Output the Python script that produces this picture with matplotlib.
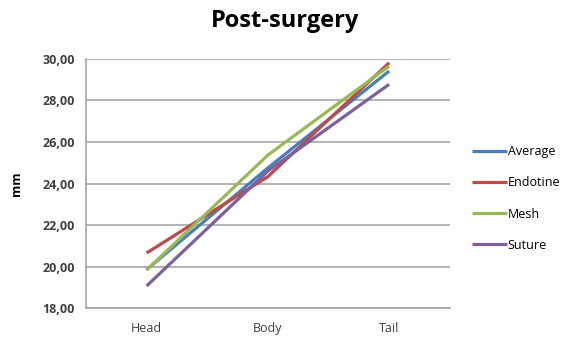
import matplotlib.pyplot as plt
import numpy as np

regions = ["Head", "Body", "Tail"]
average = [19.85, 24.75, 29.42]
endotine = [20.65, 24.33, 29.82]
mesh = [19.83, 25.37, 29.66]
suture = [19.06, 24.60, 28.78]

series = [
    ("Average", average, "#4a7ebb"),
    ("Endotine", endotine, "#be4b48"),
    ("Mesh", mesh, "#98b954"),
    ("Suture", suture, "#7d60a0"),
]

plt.rcParams['font.family'] = ['Open Sans', 'DejaVu Sans']

fig = plt.figure(figsize=(5.73, 3.42), dpi=100)
ax = fig.add_axes([0.150, 0.0994, 0.635, 0.7281])

x = np.arange(len(regions)) + 0.5
for name, vals, col in series:
    ax.plot(x, vals, color=col, lw=2.3, label=name, solid_capstyle='butt')

ax.set_xlim(0, 3)
ax.set_ylim(18, 30)
ax.set_yticks(np.arange(18, 31, 2))
ax.set_yticklabels(["{:.2f}".format(v).replace(".", ",") for v in np.arange(18, 31, 2)],
                   fontsize=9, fontweight='bold', color='#404040')
ax.set_xticks(x)
ax.set_xticklabels(regions, fontsize=9, color='#404040')
ax.tick_params(axis='both', length=0, pad=8)
ax.tick_params(axis='x', pad=10)

ax.grid(axis='y', color='#a6a6a6', lw=1.2)
ax.set_axisbelow(True)
for s in ['top', 'right']:
    ax.spines[s].set_visible(False)
for s in ['left', 'bottom']:
    ax.spines[s].set_color('#a6a6a6')
    ax.spines[s].set_linewidth(1.2)

ax.set_ylabel("mm", fontsize=9, fontweight='bold', labelpad=14)
fig.suptitle("Post-surgery", x=0.497, y=0.975, fontsize=17, fontweight='bold')

ax.legend(loc='center left', bbox_to_anchor=(1.03, 0.44), frameon=False,
          fontsize=9, handlelength=2.8, handletextpad=0.05, labelspacing=1.45)

fig.savefig("out.png", dpi=100)
